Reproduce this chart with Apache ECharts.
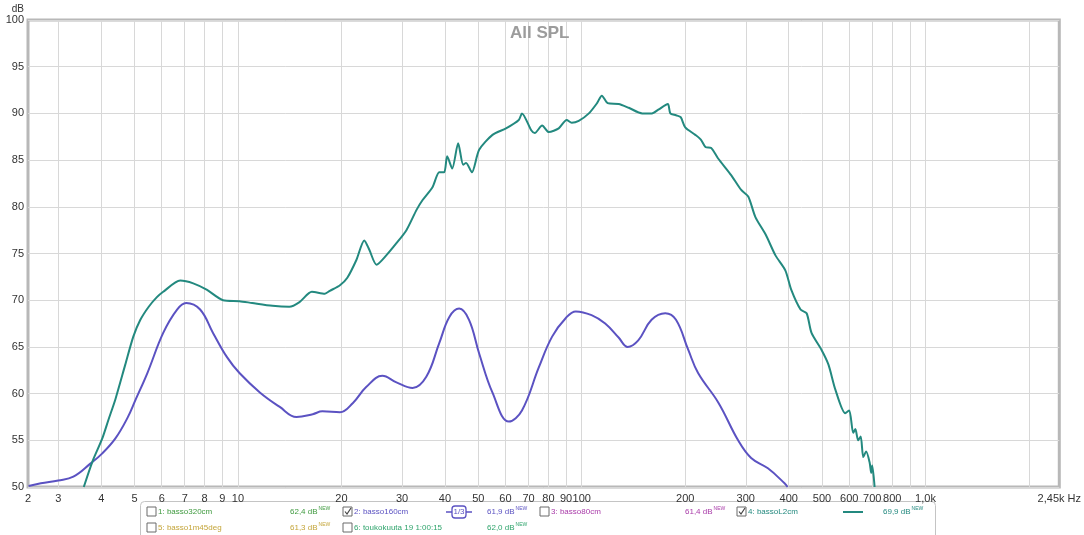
<!DOCTYPE html>
<html>
<head>
<meta charset="utf-8">
<script src="https://cdn.jsdelivr.net/npm/echarts@6/dist/echarts.min.js"></script>
<style>
  html, body { margin: 0; padding: 0; background: #fff; }
  #chart { width: 1084px; height: 535px; }
</style>
</head>
<body>
<div id="chart"></div>
<script>
// 4: bassoL2cm (teal)
const bassoL2cmHz = [3.56, 3.77, 4.03, 4.2, 4.4, 4.7, 4.96, 5.2, 5.5, 5.8, 6.06, 6.79, 7.41, 8.13, 9.05, 10.1, 11, 12.6, 14.1, 15.1, 16.4, 17.9, 18.5, 19.8, 20.8, 22.1, 23.3, 24.1, 25.3, 27, 28.9, 30.9, 33.1, 34.4, 36.8, 38.5, 39.8, 40.6, 42, 43.7, 45.2, 46.1, 47.9, 50.3, 55, 60.2, 65.6, 67, 71.3, 73, 76.7, 80.2, 85.7, 90.4, 93.5, 98, 104.9, 110.8, 114.4, 119, 128, 137, 150, 160, 167, 178, 181, 188, 194, 200, 214, 222, 229, 238, 249, 272, 291, 305, 320, 343, 366, 391, 407, 433, 451, 466, 498, 522, 547, 584, 600, 616, 625, 637, 648, 659, 672, 688, 695, 700, 711];
const bassoL2cmDb = [50, 52.7, 55.2, 57.2, 59.4, 63.1, 66.1, 67.9, 69.3, 70.3, 70.9, 72.1, 71.8, 71.1, 70, 69.9, 69.7, 69.4, 69.3, 69.8, 70.9, 70.7, 71, 71.6, 72.4, 74.3, 76.4, 75.4, 73.8, 74.8, 76.1, 77.5, 79.7, 80.7, 82.1, 83.7, 83.7, 85.4, 84.1, 86.8, 84.5, 84.7, 83.7, 86.1, 87.7, 88.4, 89.3, 90, 88.2, 87.9, 88.7, 88, 88.4, 89.3, 89, 89.2, 90, 91.1, 91.9, 91.1, 91, 90.6, 90, 90, 90.4, 91, 90, 89.8, 89.6, 88.5, 87.7, 87.2, 86.4, 86.3, 85.2, 83.4, 81.8, 81.1, 78.9, 77, 74.8, 73.2, 71.1, 69, 68.6, 66.5, 64.7, 63.1, 60.4, 57.9, 58.2, 55.8, 56.2, 55, 55.4, 53.2, 53.8, 52.6, 51.5, 52.3, 50];

// 2: basso160cm (purple)
const basso160cmHz = [2.46, 2.67, 3, 3.32, 3.72, 4.03, 4.4, 4.77, 5.03, 5.45, 6.06, 6.65, 7.07, 7.76, 8.46, 9.29, 10.1, 11.6, 13.2, 14.8, 16.5, 17.6, 19.8, 21.6, 23.6, 26.3, 28.9, 32.2, 35.3, 38.5, 41.2, 44, 47, 50.3, 55, 61.4, 67, 75, 82, 89.9, 96.1, 106.8, 117, 128, 136, 146, 159.6, 175, 188, 204, 218, 250, 285, 311, 348, 389, 397];
const basso160cmDb = [50.1, 50.4, 50.7, 51.1, 52.5, 53.6, 55.2, 57.4, 59.3, 62.2, 66.5, 69, 69.7, 69, 66.5, 63.9, 62.2, 60.1, 58.6, 57.5, 57.8, 58.1, 58, 59, 60.7, 61.9, 61.2, 60.6, 61.8, 65.4, 68.2, 69.1, 67.9, 64.3, 60.1, 57, 58.2, 62.8, 66.1, 68.1, 68.8, 68.4, 67.5, 66, 65, 65.7, 67.9, 68.6, 67.9, 64.7, 62.2, 59, 55, 53.1, 52, 50.4, 50];

// axis ticks
const gridHz = [3, 4, 5, 6, 7, 8, 9, 10, 20, 30, 40, 50, 60, 70, 80, 90, 100, 200, 300, 400, 500, 600, 700, 800, 900, 1000, 2000];
const labelHz = [2.45, 3, 4, 5, 6, 7, 8, 9, 10, 20, 30, 40, 50, 60, 70, 80, 90, 100, 200, 300, 400, 500, 600, 700, 800, 1000, 2450];

// legend
const legendNames = ['1: basso320cm', '2: basso160cm', '3: basso80cm', '4: bassoL2cm', '5: basso1m45deg', '6: toukokuuta 19 1:00:15'];
const legendLevels = ['62,4 dB', '61,9 dB', '61,4 dB', '69,9 dB', '61,3 dB', '62,0 dB'];
const legendColors = ['#3f9a3f', '#5b52c2', '#a83aa8', '#23897f', '#c4a53a', '#2fa46c'];
const legendChecked = [false, true, false, true, false, false];

function labelText(v) {
  if (Math.abs(v - 2.45) < 0.01) return '2';
  if (Math.abs(v - 2450) < 1) return '2,45k Hz';
  if (Math.abs(v - 1000) < 1) return '1,0k';
  return String(Math.round(v));
}

function pairs(xs, ys) {
  return xs.map((x, i) => [x, ys[i]]);
}

// legend built from graphic elements
const legendItems = [
  { type: 'rect', left: 140, top: 501, shape: { width: 795, height: 44, r: 4 }, style: { fill: '#fff', stroke: '#c4c4c4', lineWidth: 1 } }
];
const colX = [147, 343, 540, 737];
const lvlX = [290, 487, 685, 883];
const legendFont = '8px "Liberation Sans", Arial';
legendNames.forEach((name, i) => {
  const row = i < 4 ? 0 : 1;
  const col = i < 4 ? i : i - 4;
  const y = row === 0 ? 507 : 523;
  legendItems.push({ type: 'rect', shape: { x: colX[col], y: y, width: 9, height: 9 }, style: { fill: '#fff', stroke: '#6a6a6a', lineWidth: 1 } });
  if (legendChecked[i]) {
    legendItems.push({ type: 'polyline', shape: { points: [[colX[col] + 2, y + 4.5], [colX[col] + 4, y + 7], [colX[col] + 8, y + 1]] }, style: { stroke: '#444', lineWidth: 1.2, fill: null } });
  }
  legendItems.push({ type: 'text', x: colX[col] + 11, y: y + 5, style: { text: name, fill: legendColors[i], font: legendFont, verticalAlign: 'middle' } });
  legendItems.push({
    type: 'text', x: lvlX[col], y: y + 5,
    style: {
      text: '{a|' + legendLevels[i] + '}{s|NEW}',
      verticalAlign: 'middle',
      rich: {
        a: { fill: legendColors[i], font: legendFont },
        s: { fill: legendColors[i], font: '5px "Liberation Sans", Arial', padding: [0, 0, 6, 1] }
      }
    }
  });
});
// 1/3 smoothing icon (series 2)
legendItems.push({ type: 'line', shape: { x1: 446, y1: 512, x2: 452, y2: 512 }, style: { stroke: '#5b52c2', lineWidth: 1.5 } });
legendItems.push({ type: 'line', shape: { x1: 466, y1: 512, x2: 472, y2: 512 }, style: { stroke: '#5b52c2', lineWidth: 1.5 } });
legendItems.push({ type: 'rect', shape: { x: 452, y: 506, width: 14, height: 12, r: 3 }, style: { fill: '#fff', stroke: '#5b52c2', lineWidth: 1.3 } });
legendItems.push({ type: 'text', x: 459, y: 512, style: { text: '1/3', fill: '#5b52c2', font: '8px "Liberation Sans", Arial', align: 'center', verticalAlign: 'middle' } });
// line icon (series 4)
legendItems.push({ type: 'line', shape: { x1: 843, y1: 512, x2: 863, y2: 512 }, style: { stroke: '#23897f', lineWidth: 2 } });

const chart = echarts.init(document.getElementById('chart'));
const option = {
  animation: false,
  backgroundColor: '#fff',
  title: {
    text: 'All SPL',
    left: 505,
    top: 20,
    textStyle: { color: '#9c9c9c', fontSize: 17, fontWeight: 'bold', fontFamily: '"Liberation Sans", Arial' }
  },
  grid: {
    left: 28, right: 21, top: 20, bottom: 48,
    show: true,
    borderColor: '#b8b8b8',
    borderWidth: 3
  },
  xAxis: {
    type: 'log',
    logBase: 10,
    min: 2.45,
    max: 2450,
    axisLine: { show: false },
    axisTick: { show: false, customValues: gridHz },
    splitLine: { show: true, lineStyle: { color: '#d8d8d8', width: 1 } },
    axisLabel: {
      customValues: labelHz,
      formatter: labelText,
      color: '#333',
      fontSize: 11,
      fontFamily: '"Liberation Sans", Arial',
      margin: 6,
      showMinLabel: true,
      showMaxLabel: true,
      hideOverlap: false
    }
  },
  yAxis: {
    type: 'value',
    min: 50,
    max: 100,
    interval: 5,
    name: 'dB',
    nameLocation: 'end',
    nameGap: 3,
    nameTextStyle: { color: '#333', fontSize: 10, align: 'right', padding: [0, 4, 0, 0], fontFamily: '"Liberation Sans", Arial' },
    axisLine: { show: false },
    axisTick: { show: false },
    splitLine: { lineStyle: { color: '#d8d8d8', width: 1 } },
    axisLabel: { color: '#333', fontSize: 11, margin: 4, fontFamily: '"Liberation Sans", Arial' }
  },
  series: [
    {
      name: '2: basso160cm',
      type: 'line',
      data: pairs(basso160cmHz, basso160cmDb),
      showSymbol: false,
      smooth: 0.4,
      clip: true,
      lineStyle: { color: '#5b52c2', width: 2 }
    },
    {
      name: '4: bassoL2cm',
      type: 'line',
      data: pairs(bassoL2cmHz, bassoL2cmDb),
      showSymbol: false,
      smooth: 0.25,
      clip: true,
      lineStyle: { color: '#23897f', width: 2 }
    }
  ],
  graphic: legendItems
};
chart.setOption(option);
window.addEventListener('resize', () => {
  chart.resize();
});
</script>
</body>
</html>
